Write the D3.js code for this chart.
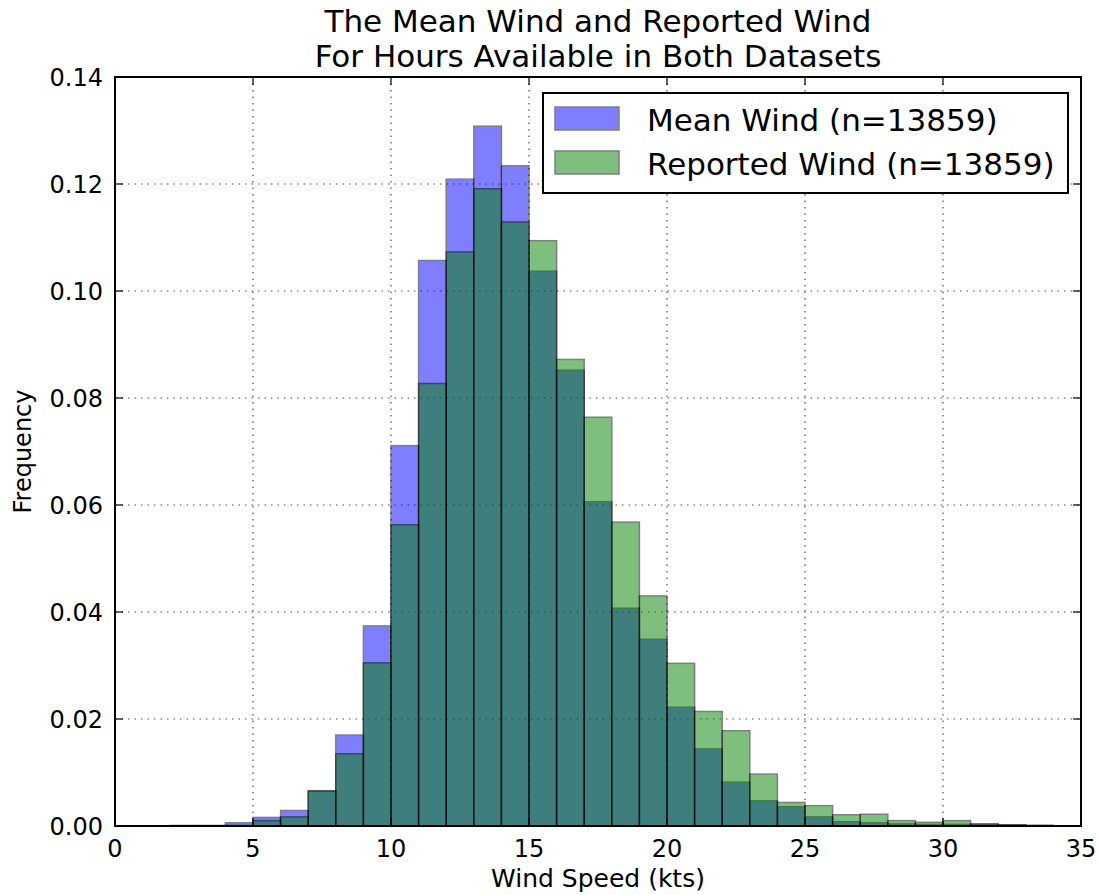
<!DOCTYPE html>
<html>
<head>
<meta charset="utf-8">
<script src="https://cdn.jsdelivr.net/npm/d3@7"></script>
<style>
  body { margin: 0; background: #fff; }
  svg text { font-family: "DejaVu Sans", sans-serif; fill: #000; }
</style>
</head>
<body>
<script>
// histogram bins, 1 kt wide, left edges
var binStarts = [2, 3, 4, 5, 6, 7, 8, 9, 10, 11, 12, 13, 14, 15, 16, 17, 18,
                 19, 20, 21, 22, 23, 24, 25, 26, 27, 28, 29, 30, 31, 32, 33];
var meanWind = [0.0001, 0.0001, 0.0006, 0.0016, 0.0029, 0.0066, 0.0170, 0.0374,
                0.0711, 0.1057, 0.1209, 0.1308, 0.1234, 0.1037, 0.0852, 0.0606,
                0.0407, 0.0349, 0.0222, 0.0144, 0.0082, 0.0047, 0.0036, 0.0017,
                0.0008, 0.0006, 0.0004, 0.0003, 0.0003, 0.0003, 0.0002, 0.0001];
var reportedWind = [0, 0, 0.0001, 0.0010, 0.0017, 0.0065, 0.0135, 0.0305,
                    0.0563, 0.0827, 0.1073, 0.1191, 0.1129, 0.1094, 0.0872, 0.0764,
                    0.0568, 0.0430, 0.0304, 0.0214, 0.0178, 0.0097, 0.0044, 0.0038,
                    0.0021, 0.0022, 0.0010, 0.0007, 0.0010, 0.0004, 0.0002, 0.0001];
var xTicks = [0, 5, 10, 15, 20, 25, 30, 35];
var yTicks = [0, 0.02, 0.04, 0.06, 0.08, 0.10, 0.12, 0.14];
var seriesNames = ["Mean Wind (n=13859)", "Reported Wind (n=13859)"];
var seriesColors = ["#0000ff", "#008000"];

var W = 1100, H = 895;
var M = {left: 115, right: 19, top: 77, bottom: 69};
var width = W - M.left - M.right;
var height = H - M.top - M.bottom;

var x = d3.scaleLinear().domain([0, 35]).range([0, width]);
var y = d3.scaleLinear().domain([0, 0.14]).range([height, 0]);

var svg = d3.select("body").append("svg")
    .attr("width", W)
    .attr("height", H);
var g = svg.append("g")
    .attr("transform", "translate(" + M.left + "," + M.top + ")");

// grid
g.append("g").selectAll("line").data(xTicks.slice(1, -1)).enter().append("line")
    .attr("x1", function (d) { return x(d); }).attr("x2", function (d) { return x(d); })
    .attr("y1", 0).attr("y2", height)
    .attr("stroke", "#555").attr("stroke-width", 1.2).attr("stroke-dasharray", "1.5,5");
g.append("g").selectAll("line").data(yTicks.slice(1, -1)).enter().append("line")
    .attr("y1", function (d) { return y(d); }).attr("y2", function (d) { return y(d); })
    .attr("x1", 0).attr("x2", width)
    .attr("stroke", "#555").attr("stroke-width", 1.2).attr("stroke-dasharray", "1.5,5");

// bars: mean first, reported on top
var series = [meanWind, reportedWind];
series.forEach(function (vals, k) {
    var data = binStarts.map(function (b, i) { return {x0: b, v: vals[i]}; })
        .filter(function (d) { return d.v > 0; });
    g.append("g").selectAll("rect").data(data).enter().append("rect")
        .attr("x", function (d) { return x(d.x0); })
        .attr("width", function (d) { return x(d.x0 + 1) - x(d.x0); })
        .attr("y", function (d) { return y(d.v); })
        .attr("height", function (d) { return y(0) - y(d.v); })
        .attr("fill", seriesColors[k])
        .attr("stroke", "#000")
        .attr("stroke-width", 1.5)
        .attr("opacity", 0.5);
});

// ticks inside, all four sides
var tl = 8;
xTicks.forEach(function (t) {
    g.append("line").attr("x1", x(t)).attr("x2", x(t)).attr("y1", height).attr("y2", height - tl)
        .attr("stroke", "#000").attr("stroke-width", 1.2);
    g.append("line").attr("x1", x(t)).attr("x2", x(t)).attr("y1", 0).attr("y2", tl)
        .attr("stroke", "#000").attr("stroke-width", 1.2);
    g.append("text").attr("x", x(t)).attr("y", height + 31)
        .attr("text-anchor", "middle").style("font-size", "24px").text(t);
});
yTicks.forEach(function (t) {
    g.append("line").attr("x1", 0).attr("x2", tl).attr("y1", y(t)).attr("y2", y(t))
        .attr("stroke", "#000").attr("stroke-width", 1.2);
    g.append("line").attr("x1", width).attr("x2", width - tl).attr("y1", y(t)).attr("y2", y(t))
        .attr("stroke", "#000").attr("stroke-width", 1.2);
    g.append("text").attr("x", -12).attr("y", y(t)).attr("dy", "0.36em")
        .attr("text-anchor", "end").style("font-size", "24px").text(t.toFixed(2));
});

// frame
g.append("rect").attr("width", width).attr("height", height)
    .attr("fill", "none").attr("stroke", "#000").attr("stroke-width", 2);

// titles
svg.append("text").attr("x", M.left + width / 2).attr("y", 32)
    .attr("text-anchor", "middle").style("font-size", "31px")
    .text("The Mean Wind and Reported Wind");
svg.append("text").attr("x", M.left + width / 2).attr("y", 67)
    .attr("text-anchor", "middle").style("font-size", "31px")
    .text("For Hours Available in Both Datasets");
svg.append("text").attr("x", M.left + width / 2).attr("y", 887)
    .attr("text-anchor", "middle").style("font-size", "25px")
    .text("Wind Speed (kts)");
svg.append("text")
    .attr("transform", "translate(31," + (M.top + height / 2) + ") rotate(-90)")
    .attr("text-anchor", "middle").style("font-size", "24px")
    .text("Frequency");

// legend
var lg = svg.append("g").attr("transform", "translate(543,93)");
lg.append("rect").attr("width", 525).attr("height", 100)
    .attr("fill", "#fff").attr("stroke", "#000").attr("stroke-width", 2);
seriesNames.forEach(function (name, k) {
    lg.append("rect").attr("x", 12).attr("y", 14 + k * 44).attr("width", 64).attr("height", 23)
        .attr("fill", seriesColors[k]).attr("stroke", "#000").attr("stroke-width", 1.5)
        .attr("opacity", 0.5);
    lg.append("text").attr("x", 104).attr("y", 38 + k * 44)
        .style("font-size", "31px").text(name);
});
</script>
</body>
</html>
